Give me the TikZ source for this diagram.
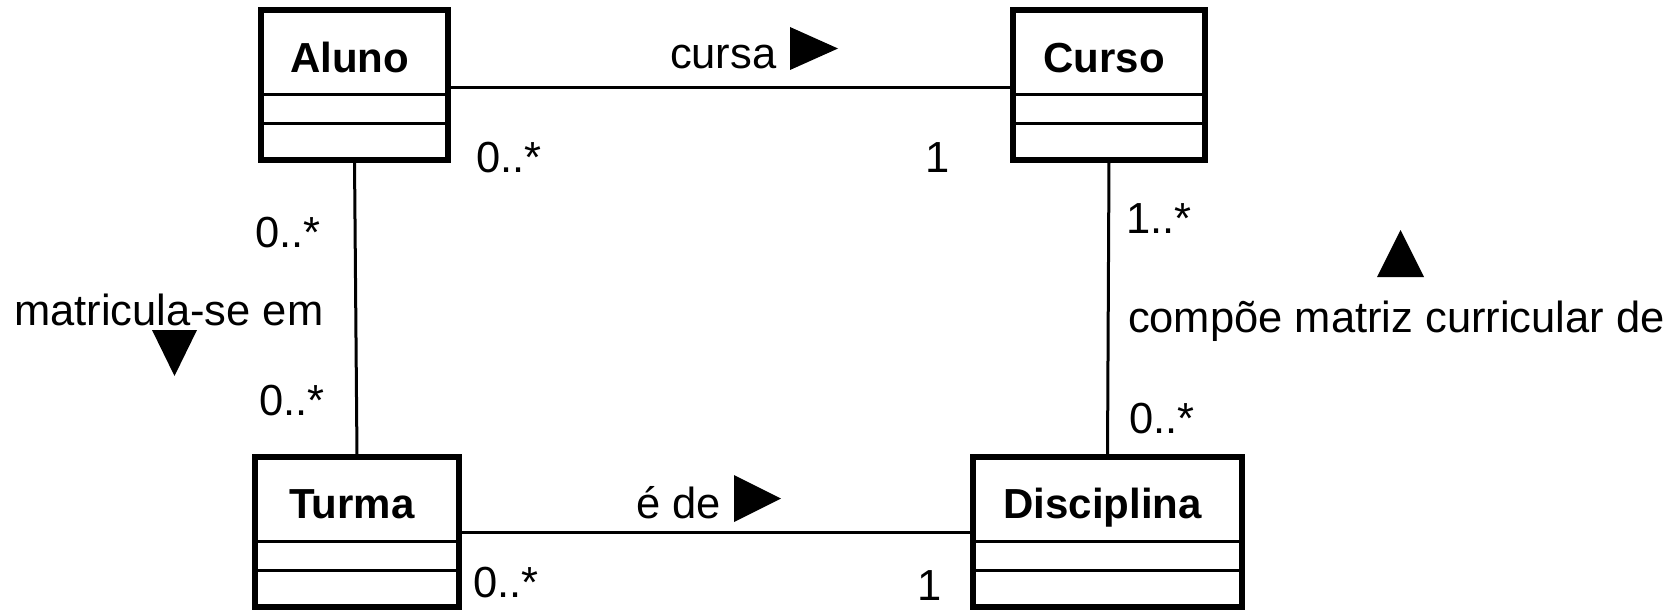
\documentclass[tikz,border=0pt]{standalone}
\usepackage{fontspec}
\setmainfont{Liberation Sans}
\tikzset{
  classbox/.style={draw, line width=6pt, minimum height=150pt, inner sep=0pt, outer sep=0pt},
  divider/.style={line width=3pt},
  assoc/.style={line width=3pt},
  classname/.style={anchor=base, inner sep=0pt, outer sep=0pt, font=\fontsize{42}{48}\selectfont\bfseries},
  lbl/.style={anchor=base west, inner sep=0pt, outer sep=0pt, font=\fontsize{43.5}{50}\selectfont},
  dirtri/.style={fill=black},
}
\begin{document}
\begin{tikzpicture}[x=1pt,y=-1pt]
\useasboundingbox[fill=white] (0,0) rectangle (1675,610);
% classes
\node[classbox, minimum width=187pt] (aluno) at (354.5,85) {};
\node[classbox, minimum width=192pt] (curso) at (1109,85) {};
\node[classbox, minimum width=204pt] (turma) at (357,532) {};
\node[classbox, minimum width=269pt] (disciplina) at (1107.5,532) {};
\foreach \n in {aluno,curso,turma,disciplina} {
  \draw[divider] ([yshift=-84pt]\n.north west) -- ([yshift=-84pt]\n.north east);
  \draw[divider] ([yshift=-113pt]\n.north west) -- ([yshift=-113pt]\n.north east);
}
\node[classname] (alunoname) at ([xshift=-5pt,yshift=-62pt]aluno.north) {Aluno};
\node[classname] (cursoname) at ([xshift=-5pt,yshift=-62pt]curso.north) {Curso};
\node[classname] (turmaname) at ([xshift=-5pt,yshift=-61pt]turma.north) {Turma};
\node[classname] (disciplinaname) at ([xshift=-5pt,yshift=-61pt]disciplina.north) {Disciplina};
% associations
\draw[assoc] ([yshift=-2pt]aluno.east) -- ([yshift=-2pt]curso.west);
\draw[assoc] (turma.east) -- (disciplina.west);
\draw[assoc] (aluno.south) -- (turma.north);
\draw[assoc] (curso.south) -- (disciplina.north);
% labels: cursa
\node[lbl] (cursa) at (670,68) {cursa};
\fill[dirtri] (790,27) -- (790,70) -- (838,48.5) -- cycle;
\node[lbl] (m1) at (476,172) {0..*};
\node[lbl] (m2) at (925,172) {1};
% matricula-se em
\node[lbl] (m3) at (255,247) {0..*};
\node[lbl] (matr) at (14,325) {matricula-se em};
\fill[dirtri] (152,330) -- (197,330) -- (174.5,376) -- cycle;
\node[lbl] (m4) at (259,415) {0..*};
% compoe
\node[lbl] (m5) at (1126,233) {1..*};
\fill[dirtri] (1377,277) -- (1424,277) -- (1400.5,230) -- cycle;
\node[lbl] (comp) at (1128,332) {compõe matriz curricular de};
\node[lbl] (m6) at (1129,433) {0..*};
% e de
\node[lbl] (ede) at (636,518) {é de};
\fill[dirtri] (734,475) -- (734,522) -- (781,498.5) -- cycle;
\node[lbl] (m7) at (473,597) {0..*};
\node[lbl] (m8) at (917,600) {1};
\end{tikzpicture}
\end{document}
